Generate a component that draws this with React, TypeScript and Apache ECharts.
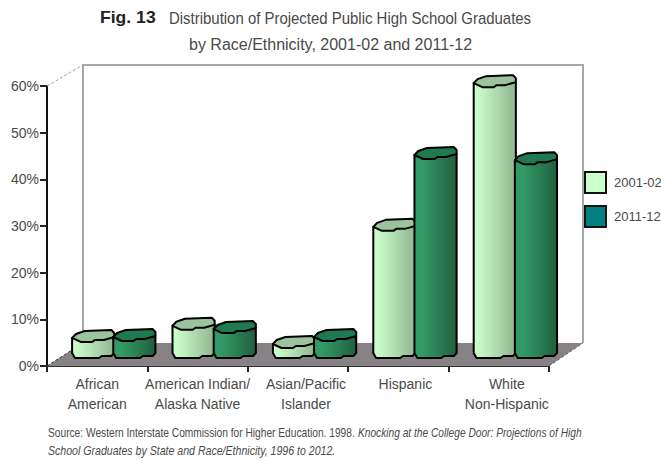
import React, { useEffect, useRef } from "react";
import * as echarts from "echarts";

const categories = [
  "African\nAmerican",
  "American Indian/\nAlaska Native",
  "Asian/Pacific\nIslander",
  "Hispanic",
  "White\nNon-Hispanic",
];
const labelNudge = [0, 0, 8, 7, 8];
const seriesNames = ["2001-02", "2011-12"];
const values2001 = [4.3, 6.9, 3.0, 28.1, 58.9];
const values2011 = [4.5, 6.2, 4.5, 43.5, 42.4];
const yTicks = { min: 0, max: 60, interval: 10 };

const FONT = '"Liberation Sans", sans-serif';
const INK = "#4a4a4a";
const DEPTH_X = 36;
const DEPTH_Y = 22;
const BASE_LIFT = 8;

const LIGHT = { stops: ["#ccffcc", "#c4f5c4", "#8fb58f"], top: "#9cc49c" };
const DARK = { stops: ["#339966", "#339966", "#1f5f3f"], top: "#1f7a4f" };

// Faceted 3D cylinder: a gradient body with a low-poly cap, lifted onto the floor.
function cylinder(palette: typeof LIGHT, leftOffset: number) {
  return (params: any, api: any) => {
    const [cx, cy] = api.coord([api.value(0), api.value(1)]);
    const band = api.size([1, 0])[0];
    const w = band * 0.42;
    const s = w / 44;
    const shiftX = band * 0.16;
    const L = cx + shiftX + leftOffset * band;
    const R = L + w;
    const top = cy - BASE_LIFT;
    const base = params.coordSys.y + params.coordSys.height - BASE_LIFT;
    const body = [
      [L, top],
      [L, base - 5],
      [L + 3 * s, base],
      [L + 28 * s, base],
      [L + 31 * s, base - 2],
      [R - 3 * s, base - 2],
      [R, base - 5],
      [R, top - 1],
    ];
    const cap = [
      [L, top],
      [L + 4 * s, top - 4],
      [L + 13 * s, top - 7],
      [L + 41 * s, top - 8],
      [R, top - 5],
      [R, top - 1],
      [L + 33 * s, top + 2],
      [L + 24 * s, top + 2],
      [L + 21 * s, top + 4],
      [L + 9 * s, top + 4],
    ];
    return {
      type: "group",
      children: [
        {
          type: "polygon",
          shape: { points: body },
          style: {
            fill: new echarts.graphic.LinearGradient(0, 0, 1, 0, [
              { offset: 0, color: palette.stops[0] },
              { offset: 0.2, color: palette.stops[1] },
              { offset: 1, color: palette.stops[2] },
            ]),
            stroke: "#000",
            lineWidth: 2,
            lineJoin: "round",
          },
        },
        {
          type: "polygon",
          shape: { points: cap },
          style: { fill: palette.top, stroke: "#000", lineWidth: 2, lineJoin: "round" },
        },
      ],
    };
  };
}

// Back wall, floor and the receding edges that connect them to the axes.
function frame(params: any) {
  const { x, y, width, height } = params.coordSys;
  const bottom = y + height;
  const right = x + width;
  const backL = x + DEPTH_X;
  const backR = right + DEPTH_X - 2;
  const backTop = y - DEPTH_Y + 1;
  const backBottom = bottom - DEPTH_Y - 1;
  const wallLine = { stroke: "#a8a8a8", lineWidth: 2, fill: "none" };
  return {
    type: "group",
    children: [
      {
        type: "polyline",
        shape: { points: [[backL, backBottom], [backL, backTop], [backR, backTop], [backR, backBottom]] },
        style: wallLine,
      },
      {
        type: "polygon",
        shape: { points: [[x, bottom], [right, bottom], [backR, backBottom], [backL, backBottom]] },
        style: { fill: "#868286" },
      },
      {
        type: "line",
        shape: { x1: x, y1: y, x2: backL, y2: backTop },
        style: { stroke: "#a0a0a0", lineWidth: 1, lineDash: [3, 2] },
      },
      {
        type: "line",
        shape: { x1: x, y1: bottom, x2: backL, y2: backBottom },
        style: { stroke: "#333", lineWidth: 1, lineDash: [3, 2] },
      },
      {
        type: "line",
        shape: { x1: right, y1: bottom, x2: backR, y2: backBottom },
        style: { stroke: "#666", lineWidth: 1, lineDash: [3, 2] },
      },
    ],
  };
}

export default function App() {
  const ref = useRef<HTMLDivElement>(null);

  useEffect(() => {
    const chart = echarts.init(ref.current!, undefined, { renderer: "svg" });
    const toData = (vals: number[]) => vals.map((v, i) => [i, v]);
    chart.setOption({
      animation: false,
      backgroundColor: "#fff",
      textStyle: { fontFamily: FONT },
      grid: { left: 47, top: 86, width: 502, height: 280, containLabel: false },
      xAxis: {
        type: "category",
        data: categories.map((value, i) => ({
          value,
          textStyle: { padding: [0, 0, 0, labelNudge[i] * 2] },
        })),
        axisLine: { lineStyle: { color: "#333", width: 2 } },
        axisTick: { show: true, length: 6, lineStyle: { color: "#222", width: 2 } },
        axisLabel: {
          interval: 0,
          margin: 8,
          color: INK,
          fontFamily: FONT,
          fontSize: 14,
          lineHeight: 20,
        },
      },
      yAxis: {
        type: "value",
        ...yTicks,
        axisLine: { show: true, lineStyle: { color: "#111", width: 2 } },
        axisTick: { show: true, length: 7, lineStyle: { color: "#222", width: 2 } },
        splitLine: { show: false },
        axisLabel: {
          margin: 8,
          color: INK,
          fontFamily: FONT,
          fontSize: 14,
          formatter: "{value}%",
        },
      },
      legend: {
        left: 584,
        top: 171,
        padding: 0,
        orient: "vertical",
        itemWidth: 21,
        itemHeight: 21,
        itemGap: 11,
        selectedMode: false,
        textStyle: { color: INK, fontFamily: FONT, fontSize: 13, padding: [0, 0, 0, 3] },
        data: [
          { name: seriesNames[0], icon: "rect", itemStyle: { color: "#ccffcc", borderColor: "#111", borderWidth: 2 } },
          { name: seriesNames[1], icon: "rect", itemStyle: { color: "#008080", borderColor: "#111", borderWidth: 2 } },
        ],
      },
      series: [
        {
          type: "custom",
          name: "frame",
          data: [[0, 0]],
          renderItem: frame,
          silent: true,
          z: 1,
        },
        {
          type: "custom",
          name: seriesNames[0],
          data: toData(values2001),
          renderItem: cylinder(LIGHT, -0.41),
          itemStyle: { color: "#ccffcc" },
          clip: false,
          z: 3,
        },
        {
          type: "custom",
          name: seriesNames[1],
          data: toData(values2011),
          renderItem: cylinder(DARK, 0),
          itemStyle: { color: "#008080" },
          clip: false,
          z: 4,
        },
      ],
      graphic: [
        {
          type: "text",
          x: 100,
          y: 10,
          scaleX: 1.1,
          style: { text: "Fig. 13", fill: "#222", font: `bold 16px ${FONT}` },
        },
        {
          type: "text",
          x: 169,
          y: 10,
          scaleX: 0.935,
          style: {
            text: "Distribution of Projected Public High School Graduates",
            fill: INK,
            font: `16px ${FONT}`,
          },
        },
        {
          type: "text",
          x: 189,
          y: 36,
          style: {
            text: "by Race/Ethnicity, 2001-02 and 2011-12",
            fill: INK,
            font: `16px ${FONT}`,
          },
        },
        {
          type: "text",
          x: 48,
          y: 427,
          scaleX: 0.85,
          style: {
            text: "{n|Source: Western Interstate Commission for Higher Education. 1998. }{i|Knocking at the College Door: Projections of High}",
            rich: {
              n: { font: `12px ${FONT}`, fill: INK },
              i: { font: `italic 12px ${FONT}`, fill: INK },
            },
          },
        },
        {
          type: "text",
          x: 48,
          y: 445,
          scaleX: 0.883,
          style: {
            text: "School Graduates by State and Race/Ethnicity, 1996 to 2012.",
            font: `italic 12px ${FONT}`,
            fill: INK,
          },
        },
      ],
    });
    return () => chart.dispose();
  }, []);

  return <div ref={ref} style={{ width: 661, height: 461, position: "absolute", left: 0, top: 0 }} />;
}
